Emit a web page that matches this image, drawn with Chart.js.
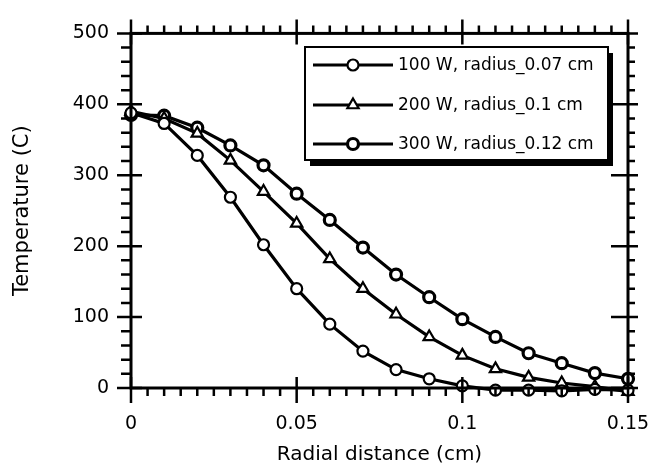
<!DOCTYPE html>
<html>
<head>
<meta charset="utf-8">
<script src="https://cdn.jsdelivr.net/npm/chart.js@4/dist/chart.umd.min.js"></script>
<style>
  html, body { margin: 0; padding: 0; background: #fff; }
  #wrap { width: 654px; height: 463px; }
</style>
</head>
<body>
<div id="wrap"><canvas id="tempChart" width="654" height="463"></canvas></div>
<script>
var radialDistance = [0, 0.01, 0.02, 0.03, 0.04, 0.05, 0.06, 0.07, 0.08, 0.09, 0.1, 0.11, 0.12, 0.13, 0.14, 0.15];
var temp100W = [388, 373, 328, 269, 202, 140, 90, 52, 26, 13, 3, -3, -3, -4, -2, -3];
var temp200W = [390, 380, 359, 321, 277, 232, 182, 140, 104, 72, 46, 27, 15, 7, 2, -5];
var temp300W = [385, 384, 367, 342, 314, 274, 237, 198, 160, 128, 97, 72, 49, 35, 21, 13];
var seriesNames = ["100 W, radius_0.07 cm", "200 W, radius_0.1 cm", "300 W, radius_0.12 cm"];
var xTicks = [0, 0.05, 0.1, 0.15];
var yTicks = [0, 100, 200, 300, 400, 500];

var fontFamily = "'DejaVu Sans', sans-serif";

function to_points(values) {
    return radialDistance.map((x, i) => ({ x: x, y: values[i] }));
}

function make_dataset(label, values, style, radius, bw) {
    return {
        label: label,
        data: to_points(values),
        borderColor: "#000",
        borderWidth: 3.2,
        pointStyle: style,
        pointRadius: radius,
        pointBorderWidth: bw,
        pointBackgroundColor: "#fff",
        pointBorderColor: "#000",
        clip: 12,
        tension: 0,
    };
}

// frame with inward/outward tick marks, like the original plot
var framePlugin = {
    id: "frame",
    afterDatasetsDraw(chart) {
        var ctx = chart.ctx;
        var a = chart.chartArea;
        var xs = chart.scales.x;
        var ys = chart.scales.y;
        ctx.save();
        ctx.strokeStyle = "#000";
        ctx.lineCap = "butt";
        ctx.lineWidth = 3;
        ctx.strokeRect(a.left, a.top, a.right - a.left, a.bottom - a.top);
        ctx.lineWidth = 2.5;
        ctx.beginPath();
        for (var i = 0; i <= 30; i++) {
            var px = xs.getPixelForValue(i * 0.005);
            var major = i % 10 == 0;
            // bottom
            ctx.moveTo(px, a.bottom + (major ? 15 : 8));
            ctx.lineTo(px, major ? a.bottom - 11 : a.bottom);
            // top
            ctx.moveTo(px, a.top - (major ? 14 : 8));
            ctx.lineTo(px, major ? a.top + 11 : a.top);
        }
        for (var j = 0; j <= 25; j++) {
            var py = ys.getPixelForValue(j * 20);
            var majorY = j % 5 == 0;
            ctx.moveTo(a.left - (majorY ? 14 : 10), py);
            ctx.lineTo(majorY ? a.left + 11 : a.left, py);
            ctx.moveTo(a.right + (majorY ? 10 : 7), py);
            ctx.lineTo(majorY ? a.right - 17 : a.right, py);
        }
        ctx.stroke();
        ctx.restore();
    },
};

// boxed legend with drop shadow inside the plot
var legendBoxPlugin = {
    id: "legendBox",
    afterDraw(chart) {
        var ctx = chart.ctx;
        var box = { left: 305, top: 47, right: 608, bottom: 160 };
        ctx.save();
        ctx.fillStyle = "#000";
        ctx.fillRect(box.left + 5, box.top + 6, box.right - box.left, box.bottom - box.top);
        ctx.fillStyle = "#fff";
        ctx.fillRect(box.left, box.top, box.right - box.left, box.bottom - box.top);
        ctx.strokeStyle = "#000";
        ctx.lineWidth = 2;
        ctx.strokeRect(box.left, box.top, box.right - box.left, box.bottom - box.top);
        var rows = [65, 105, 144];
        chart.data.datasets.forEach((ds, i) => {
            var y = rows[i];
            ctx.strokeStyle = "#000";
            ctx.lineWidth = 3;
            ctx.beginPath();
            ctx.moveTo(313, y);
            ctx.lineTo(393, y);
            ctx.stroke();
            ctx.fillStyle = "#fff";
            ctx.lineWidth = ds.pointBorderWidth;
            Chart.helpers.drawPoint(ctx, { pointStyle: ds.pointStyle, radius: ds.pointRadius, borderWidth: ds.pointBorderWidth, rotation: 0 }, 353, y);
            ctx.fillStyle = "#000";
            ctx.font = "17px " + fontFamily;
            ctx.textBaseline = "middle";
            ctx.textAlign = "left";
            ctx.fillText(ds.label, 398, y + 1);
        });
        ctx.restore();
    },
};

var config = {
    type: "line",
    data: {
        datasets: [
            make_dataset(seriesNames[0], temp100W, "circle", 5.5, 2.2),
            make_dataset(seriesNames[1], temp200W, "triangle", 6.5, 2.2),
            make_dataset(seriesNames[2], temp300W, "circle", 5.5, 3.2),
        ],
    },
    options: {
        responsive: false,
        animation: false,
        layout: { padding: { left: 0, right: 26, top: 32, bottom: 0 } },
        plugins: {
            legend: { display: false },
            tooltip: { enabled: false },
        },
        scales: {
            x: {
                type: "linear",
                min: 0,
                max: 0.15,
                afterBuildTicks: (scale) => { scale.ticks = xTicks.map((v) => ({ value: v })); },
                afterFit: (scale) => {
                    scale.height = 75;
                    scale.paddingLeft = 0;
                    scale.paddingRight = 0;
                },
                grid: { display: false, drawTicks: false },
                border: { display: false },
                ticks: {
                    color: "#000",
                    padding: 25,
                    font: { family: fontFamily, size: 19 },
                    maxRotation: 0,
                    callback: (v) => String(Number(v.toFixed(2))),
                },
                title: {
                    display: true,
                    text: "Radial distance (cm)",
                    color: "#000",
                    font: { family: fontFamily, size: 20 },
                    padding: { top: 0, bottom: -4 },
                },
            },
            y: {
                type: "linear",
                min: 0,
                max: 500,
                afterBuildTicks: (scale) => { scale.ticks = yTicks.map((v) => ({ value: v })); },
                afterFit: (scale) => { scale.width = 131; },
                grid: { display: false, drawTicks: false },
                border: { display: false },
                ticks: {
                    color: "#000",
                    padding: 22,
                    font: { family: fontFamily, size: 19 },
                },
                title: {
                    display: true,
                    text: "Temperature (C)",
                    color: "#000",
                    font: { family: fontFamily, size: 21 },
                    padding: { top: 10, bottom: 0 },
                },
            },
        },
    },
    plugins: [framePlugin, legendBoxPlugin],
};

var tempChart = new Chart("tempChart", config);
</script>
</body>
</html>
